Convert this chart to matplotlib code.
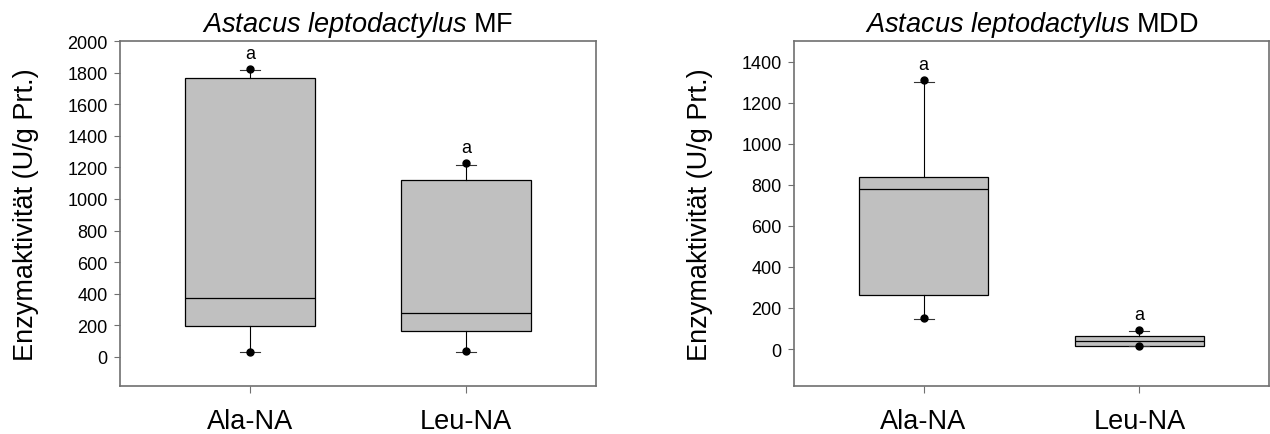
import numpy as np
import matplotlib.pyplot as plt

plt.rcParams['font.family'] = ['Liberation Sans', 'DejaVu Sans']
plt.rcParams['mathtext.fontset'] = 'custom'
plt.rcParams['mathtext.rm'] = 'Liberation Sans'
plt.rcParams['mathtext.it'] = 'Liberation Sans:italic'

substrates = ['Ala-NA', 'Leu-NA']

# MF: box statistics (U/g Prt.)
mf_q1 = [198, 163]
mf_med = [371, 280]
mf_q3 = [1768, 1118]
mf_whislo = [29, 32]
mf_whishi = [1814, 1217]
mf_low = [32, 36]
mf_high = [1822, 1228]
mf_letters = ['a', 'a']

# MDD: box statistics (U/g Prt.)
mdd_q1 = [265, 17]
mdd_med = [781, 39]
mdd_q3 = [838, 63]
mdd_whislo = [148, 13]
mdd_whishi = [1300, 88]
mdd_low = [152, 14]
mdd_high = [1310, 93]
mdd_letters = ['a', 'a']

frame_col = '#707070'


def make_stats(q1, med, q3, lo, hi, low, high):
    stats = []
    for i in range(len(q1)):
        stats.append({'med': med[i], 'q1': q1[i], 'q3': q3[i],
                      'whislo': lo[i], 'whishi': hi[i],
                      'fliers': [low[i], high[i]]})
    return stats


def draw_panel(ax, stats, high, letters, title, ylim, yticks):
    pos = np.arange(1, len(stats) + 1)
    ax.bxp(stats, positions=pos, widths=0.6, capwidths=[0.093] * len(stats),
           patch_artist=True, showfliers=True,
           boxprops=dict(facecolor='#c0c0c0', edgecolor='black', linewidth=0.9),
           medianprops=dict(color='black', linewidth=0.9),
           whiskerprops=dict(color='black', linewidth=0.8),
           capprops=dict(color='#333333', linewidth=0.8),
           flierprops=dict(marker='o', markerfacecolor='black',
                           markeredgecolor='black', markersize=5))
    for p, h, t in zip(pos, high, letters):
        ax.annotate(t, (p, h), xytext=(0, 5), textcoords='offset points',
                    ha='center', va='bottom', fontsize=13)
    ax.set_xlim(0.4, 2.6)
    ax.set_ylim(*ylim)
    ax.set_yticks(yticks)
    ax.set_xticks(pos)
    ax.set_xticklabels(substrates, fontsize=19.5)
    ax.tick_params(axis='y', labelsize=13, length=4, color=frame_col, pad=5)
    ax.tick_params(axis='x', length=5, color=frame_col, pad=10.5)
    for s in ax.spines.values():
        s.set_color(frame_col)
        s.set_linewidth(1.2)
    ax.set_ylabel('Enzymaktivität (U/g Prt.)', fontsize=19.5, labelpad=20)
    ax.set_title(r'$Astacus\ leptodactylus$ ' + title, fontsize=19.5, pad=7)


fig = plt.figure(figsize=(12.7, 4.35), dpi=100)
ax1 = fig.add_axes([0.0945, 0.1103, 0.3748, 0.7931])
ax2 = fig.add_axes([0.6252, 0.1103, 0.374, 0.7931])

draw_panel(ax1, make_stats(mf_q1, mf_med, mf_q3, mf_whislo, mf_whishi, mf_low, mf_high),
           mf_high, mf_letters, 'MF', (-184, 2000), np.arange(0, 2001, 200))
draw_panel(ax2, make_stats(mdd_q1, mdd_med, mdd_q3, mdd_whislo, mdd_whishi, mdd_low, mdd_high),
           mdd_high, mdd_letters, 'MDD', (-180, 1500), np.arange(0, 1401, 200))

fig.savefig('out.png', dpi=100)
